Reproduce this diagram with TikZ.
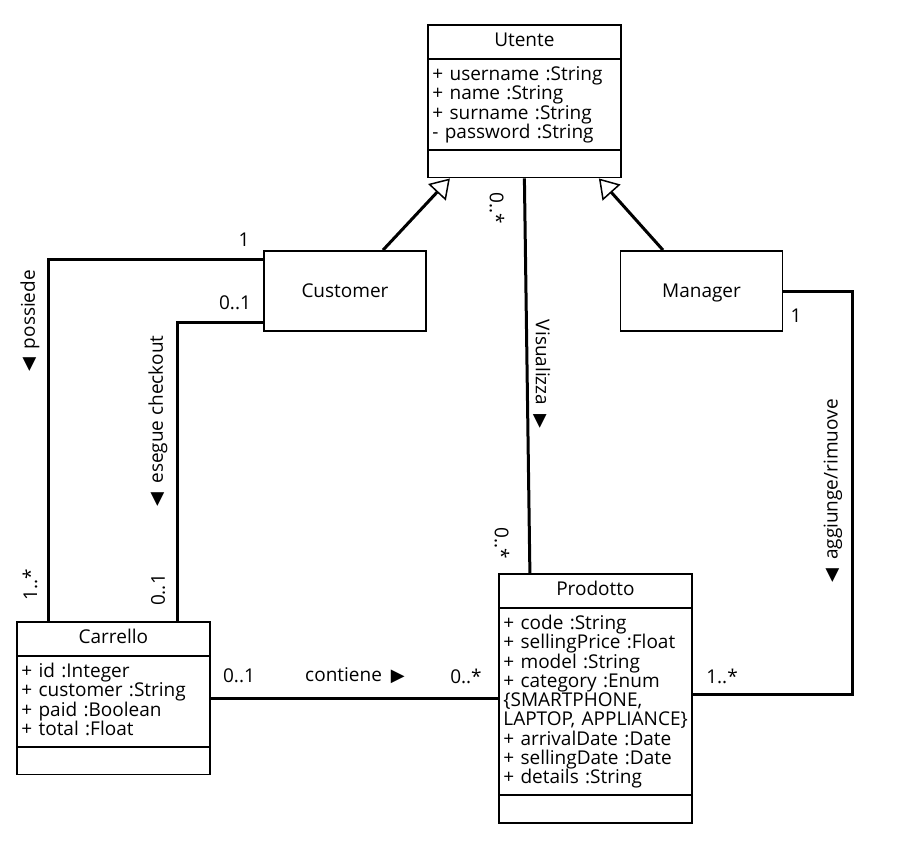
\documentclass[tikz,border=0pt]{standalone}
\usepackage{fontspec}
\setmainfont{Open Sans}
\newfontfamily\symfont{DejaVu Sans}
\usetikzlibrary{arrows.meta,positioning,shapes.multipart}

\newcommand{\dirleft}{{\symfont\fontsize{18}{18}\selectfont ◀}\hspace{9pt}}
\newcommand{\dirright}{\hspace{9pt}{\symfont\fontsize{18}{18}\selectfont ▶}}
\newcommand{\toprow}{\rule{0pt}{15.5pt}}
\newcommand{\lastrow}{\rule[-5pt]{0pt}{5pt}}
\newcommand{\emptyrow}{\rule{0pt}{15pt}}
\newcommand{\classname}[1]{\makebox[184pt]{\rule[-5.5pt]{0pt}{21pt}#1}}

\begin{document}
\begin{tikzpicture}[
    x=1pt, y=-1pt,
    line width=3pt,
    font=\fontsize{19}{19.25}\selectfont,
    umlclass/.style={rectangle split, rectangle split parts=3, draw, line width=1.8pt,
        text width=184pt, inner xsep=4.5pt, inner ysep=5.5pt, align=left},
    subclass/.style={rectangle, draw, line width=1.8pt, minimum width=162pt, minimum height=80pt,
        text height=12pt, text depth=0pt},
    mult/.style={inner sep=1pt},
    role/.style={inner sep=1pt},
    isa/.style={-{Triangle[open,length=19pt,width=24pt,line width=1.5pt]}}
]
\useasboundingbox (0,0) rectangle (906,851);

% Classes
\node[umlclass, anchor=north west] (utente) at (427,24)
  {\classname{Utente}
   \nodepart{two}\toprow + username :String\\ + name :String\\ + surname :String\\ - password :String\lastrow
   \nodepart{three}\emptyrow};
\node[subclass] (customer) at (345,291) {Customer};
\node[subclass] (manager) at (701.5,291) {Manager};
\node[umlclass, anchor=north west] (carrello) at (16,621)
  {\classname{Carrello}
   \nodepart{two}\toprow + id :Integer\\ + customer :String\\ + paid :Boolean\\ + total :Float\lastrow
   \nodepart{three}\emptyrow};
\node[umlclass, anchor=north west] (prodotto) at (498,573)
  {\classname{Prodotto}
   \nodepart{two}\toprow + code :String\\ + sellingPrice :Float\\ + model :String\\ + category :Enum\\
   \{SMARTPHONE,\\ \mbox{LAPTOP, APPLIANCE\}}\\ + arrivalDate :Date\\ + sellingDate :Date\\ + details :String\lastrow
   \nodepart{three}\emptyrow};

% Generalisation
\draw[isa] ([xshift=38pt]customer.north) -- ([xshift=-74.5pt]utente.south);
\draw[isa] ([xshift=-38.5pt]manager.north) -- ([xshift=74.5pt]utente.south);

% Associations
\draw ([yshift=32pt]customer.west) -| ([xshift=-64.5pt]carrello.north);
\draw ([yshift=-31pt]customer.west) -| ([xshift=64.5pt]carrello.north);
\draw (utente.south) -- ([xshift=-65.5pt]prodotto.north);
\coordinate (bend) at (852,694);
\draw (manager.east) -| (bend) -- (bend -| prodotto.east);
\draw (carrello.east) -- (carrello.east -| prodotto.west);

% Multiplicities
\node[mult] (m-pos-cust) at (244,240) {1};
\node[mult, rotate=90] (m-pos-carr) at (30,585) {1..*};
\node[mult] (m-chk-cust) at (235,303) {0..1};
\node[mult, rotate=90] (m-chk-carr) at (158,590) {0..1};
\node[mult, rotate=-90] (m-vis-ut) at (497,208) {0..*};
\node[mult, rotate=-90] (m-vis-prod) at (502,543) {0..*};
\node[mult] (m-agg-man) at (796,316) {1};
\node[mult] (m-agg-prod) at (722,676) {1..*};
\node[mult] (m-con-carr) at (239,676) {0..1};
\node[mult] (m-con-prod) at (466,676) {0..*};

% Association names
\node[role, rotate=90] (l-possiede) at (30,321) {\dirleft possiede};
\node[role, rotate=90] (l-checkout) at (158,421) {\dirleft esegue checkout};
\node[role, rotate=-90] (l-visualizza) at (542,374) {Visualizza\dirright};
\node[role, rotate=90] (l-aggiunge) at (833,491) {\dirleft aggiunge/rimuove};
\node[role] (l-contiene) at (355,676) {contiene\dirright};

\end{tikzpicture}
\end{document}
